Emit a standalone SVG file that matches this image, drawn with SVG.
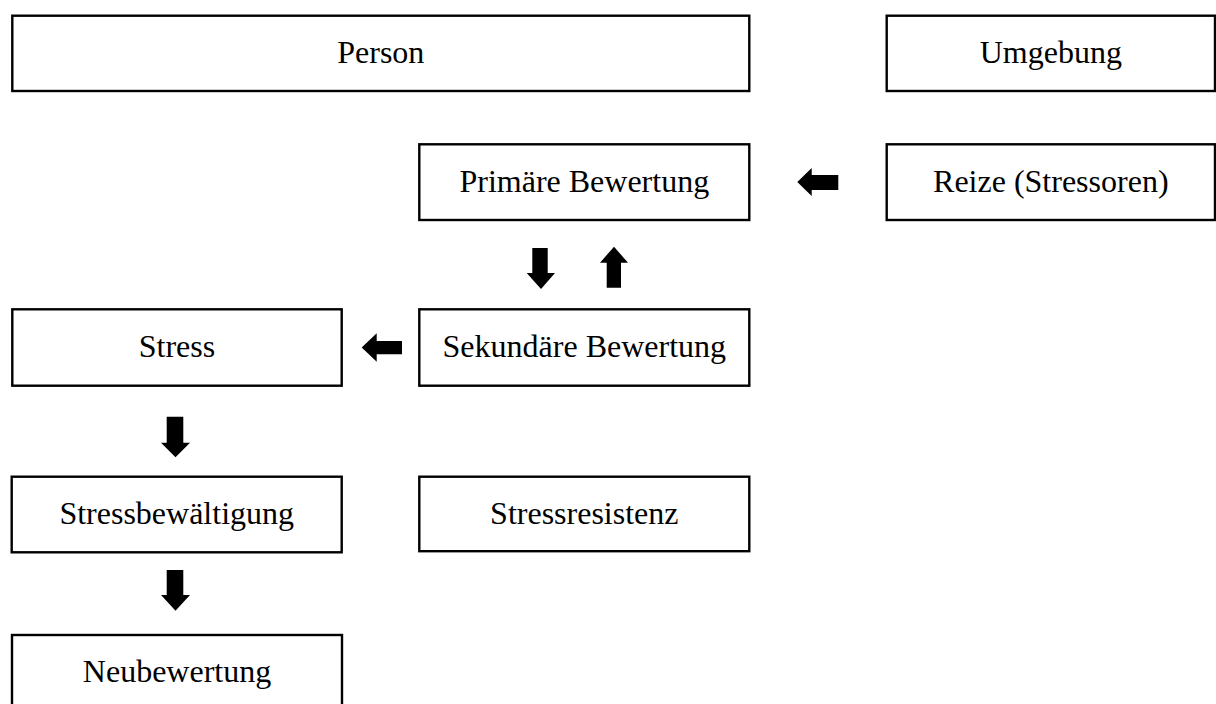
<svg xmlns="http://www.w3.org/2000/svg" width="1216" height="704" viewBox="0 0 1216 704">
<style>
.box{fill:#fff;stroke:#000;stroke-width:2.4}
.lbl{font-family:"Liberation Serif","Times New Roman",serif;font-size:32px;fill:#000;text-anchor:middle}
.arr{fill:#000;stroke:none}
</style>
<rect width="1216" height="704" fill="#fff"/>
<g id="person"><rect class="box" x="12.3" y="15.7" width="737" height="75.3"/><text class="lbl" x="380.8" y="63">Person</text></g>
<g id="umgebung"><rect class="box" x="886.7" y="15.7" width="328.3" height="75.3"/><text class="lbl" x="1050.8" y="63">Umgebung</text></g>
<g id="primaere"><rect class="box" x="419.3" y="144.3" width="330" height="75.7"/><text class="lbl" x="584.3" y="191.7">Primäre Bewertung</text></g>
<g id="reize"><rect class="box" x="886.7" y="144.3" width="328.3" height="75.7"/><text class="lbl" x="1050.8" y="191.7">Reize (Stressoren)</text></g>
<g id="sekundaere"><rect class="box" x="419.3" y="309.3" width="330" height="76.4"/><text class="lbl" x="584.3" y="357">Sekundäre Bewertung</text></g>
<g id="stress"><rect class="box" x="12.3" y="309.3" width="329.4" height="76.4"/><text class="lbl" x="177" y="357">Stress</text></g>
<g id="stressbewaeltigung"><rect class="box" x="11.7" y="476.7" width="330" height="75.6"/><text class="lbl" x="176.7" y="523.5">Stressbewältigung</text></g>
<g id="stressresistenz"><rect class="box" x="419.3" y="476.7" width="330" height="74.5"/><text class="lbl" x="584.3" y="523.5">Stressresistenz</text></g>
<g id="neubewertung"><rect class="box" x="12" y="635" width="330" height="80"/><text class="lbl" x="177" y="682">Neubewertung</text></g>
<g id="connectors">
<polygon class="arr" points="797.3,182 811.7,168 811.7,175 838.3,175 838.3,190 811.7,190 811.7,196"/>
<polygon class="arr" points="361.7,347.5 376.7,333.3 376.7,341 402,341 402,354.3 376.7,354.3 376.7,361.7"/>
<polygon class="arr" points="532.3,248 547.7,248 547.7,273 555,273 541,289 526.7,273 532.3,273"/>
<polygon class="arr" points="606.7,287.7 621,287.7 621,262.7 628,262.7 614,246.7 600,262.7 606.7,262.7"/>
<polygon class="arr" points="166.7,416.7 183.3,416.7 183.3,442.7 190,442.7 175.5,457.3 161,442.7 166.7,442.7"/>
<polygon class="arr" points="166.7,570 183.3,570 183.3,595 190,595 175.5,610.7 161,595 166.7,595"/>
</g>
</svg>
